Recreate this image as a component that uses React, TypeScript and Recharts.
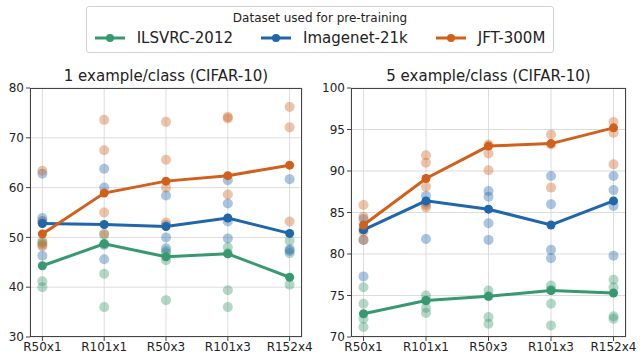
import { CartesianGrid, Scatter, ScatterChart, XAxis, YAxis } from "recharts";

const CATS = ["R50x1", "R101x1", "R50x3", "R101x3", "R152x4"];
const SERIES = ["ILSVRC-2012", "Imagenet-21k", "JFT-300M"];
const COLORS = ["#36996f", "#1f66ab", "#d0601c"];

// 1 example/class — means per model
const M1_ILSVRC = [44.3, 48.7, 46.1, 46.7, 42.0];
const M1_IN21K = [52.8, 52.6, 52.2, 53.9, 50.8];
const M1_JFT = [50.7, 58.9, 61.3, 62.4, 64.5];
// individual runs
const R1_ILSVRC = [[49.2, 48.5, 41.2, 40.0], [50.5, 48.7, 42.7, 36.0], [47.2, 46.8, 45.4, 37.4], [48.0, 46.8, 39.4, 36.0], [49.3, 46.8, 40.5]];
const R1_IN21K = [[62.8, 53.9, 53.3, 46.3], [63.8, 60.0, 48.5, 45.6], [58.4, 52.5, 50.0, 47.8], [61.5, 56.8, 53.2, 49.8], [61.7, 47.6, 47.3]];
const R1_JFT = [[63.4, 53.0, 48.9, 48.2], [73.6, 67.5, 55.0, 50.8], [73.2, 65.6, 60.0, 53.0], [74.2, 73.9, 58.6], [76.2, 72.1, 53.2]];

// 5 example/class
const M5_ILSVRC = [72.8, 74.4, 74.9, 75.6, 75.3];
const M5_IN21K = [82.9, 86.4, 85.4, 83.5, 86.4];
const M5_JFT = [83.5, 89.1, 93.0, 93.3, 95.2];
const R5_ILSVRC = [[76.0, 74.0, 72.2, 71.2], [75.0, 74.4, 73.5, 72.9], [75.6, 74.9, 72.4, 71.6], [76.2, 75.7, 74.0, 71.4], [76.9, 76.0, 72.5, 72.2]];
const R5_IN21K = [[84.2, 83.0, 81.7, 77.3], [87.0, 86.2, 81.8], [87.6, 86.9, 83.7, 81.7], [89.4, 86.0, 80.5, 79.5], [89.4, 87.7, 85.8, 79.8]];
const R5_JFT = [[85.9, 84.5, 82.7, 81.7], [91.9, 91.0, 88.1, 85.9, 85.6], [93.2, 92.1, 90.1], [94.4, 93.2, 88.0], [95.9, 94.6, 90.8]];

const TICKS1 = [30, 40, 50, 60, 70, 80];
const TICKS5 = [70, 75, 80, 85, 90, 95, 100];

const FONT = "DejaVu Sans, sans-serif";
const pts = (m: number[]) => m.map((y, x) => ({ x, y }));
const runPts = (r: number[][]) => r.flatMap((vals, x) => vals.map((y) => ({ x, y })));

const dot = (r: number, color: string, op: number) => (p: any) =>
  <circle cx={p.cx} cy={p.cy} r={r} fill={color} fillOpacity={op} stroke="none" />;

function Panel({ title, left, width, yW, marginR, domain, ticks, means, runs }: {
  title: string; left: number; width: number; yW: number; marginR: number; domain: [number, number];
  ticks: number[]; means: number[][]; runs: number[][][];
}) {
  const plotW = width - yW - marginR;
  return (
    <div style={{ position: "absolute", left, top: 0, width, height: 364 }}>
      <div style={{ position: "absolute", left: yW, width: plotW, top: 67, textAlign: "center", fontSize: 15, lineHeight: "18px", color: "#222" }}>{title}</div>
      <ScatterChart width={width} height={364} margin={{ top: 88, right: marginR, bottom: 0, left: 0 }}>
        <CartesianGrid stroke="#dcdcdc" />
        <XAxis type="number" dataKey="x" domain={[-0.2, 4.2]} ticks={[0, 1, 2, 3, 4]} height={27}
          tickFormatter={(v) => CATS[v]} axisLine={false} tickSize={4} tickMargin={1}
          tickLine={{ stroke: "#444" }} tick={{ fontSize: 12, fill: "#222", fontFamily: FONT }} interval={0} />
        <YAxis type="number" dataKey="y" domain={domain} ticks={ticks} width={yW} axisLine={false}
          tickSize={4} tickMargin={2} tickLine={{ stroke: "#444" }} tick={{ fontSize: 12, fill: "#222", fontFamily: FONT }} />
        {runs.map((r, i) => (
          <Scatter key={"r" + i} data={runPts(r)} fill={COLORS[i]} shape={dot(5, COLORS[i], 0.38)} isAnimationActive={false} />
        ))}
        {means.map((m, i) => (
          <Scatter key={"m" + i} data={pts(m)} fill={COLORS[i]} line={{ stroke: COLORS[i], strokeWidth: 3 }}
            lineType="joint" shape={dot(4.5, COLORS[i], 1)} isAnimationActive={false} />
        ))}
      </ScatterChart>
      <div style={{ position: "absolute", left: yW, top: 88, width: plotW, height: 249, border: "1px solid #444", boxSizing: "border-box", pointerEvents: "none" }} />
    </div>
  );
}

export default function App() {
  return (
    <div style={{ position: "absolute", left: 0, top: 0, width: 640, height: 364, background: "#fff", fontFamily: FONT }}>
      <div style={{ position: "absolute", left: 0, width: 640, top: 6, display: "flex", justifyContent: "center" }}>
        <div style={{ border: "1px solid #d0d0d0", borderRadius: 3, padding: "3px 8px 5px 8px", display: "flex", flexDirection: "column", alignItems: "center" }}>
          <div style={{ fontSize: 12, color: "#222", lineHeight: "16px", marginBottom: 3 }}>Dataset used for pre-training</div>
          <div style={{ display: "flex", alignItems: "center", gap: 28 }}>
            {SERIES.map((s, i) => (
              <div key={s} style={{ display: "flex", alignItems: "center", gap: 12 }}>
                <svg width={30} height={10}>
                  <line x1={0} y1={5} x2={30} y2={5} stroke={COLORS[i]} strokeWidth={3} />
                  <circle cx={15} cy={5} r={4} fill={COLORS[i]} />
                </svg>
                <span style={{ fontSize: 15, color: "#222", lineHeight: "18px" }}>{s}</span>
              </div>
            ))}
          </div>
        </div>
      </div>
      <Panel title="1 example/class (CIFAR-10)" left={0} width={320} yW={30} marginR={18} domain={[30, 80]} ticks={TICKS1}
        means={[M1_ILSVRC, M1_IN21K, M1_JFT]} runs={[R1_ILSVRC, R1_IN21K, R1_JFT]} />
      <Panel title="5 example/class (CIFAR-10)" left={320} width={320} yW={31} marginR={14} domain={[70, 100]} ticks={TICKS5}
        means={[M5_ILSVRC, M5_IN21K, M5_JFT]} runs={[R5_ILSVRC, R5_IN21K, R5_JFT]} />
    </div>
  );
}
